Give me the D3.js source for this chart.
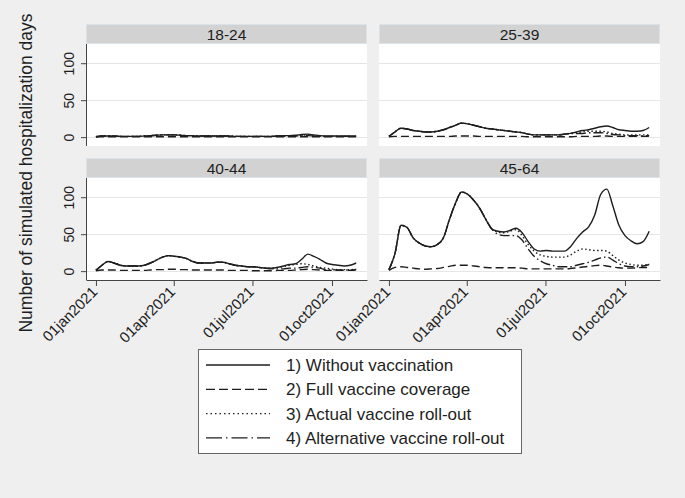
<!DOCTYPE html>
<html>
<head>
<meta charset="utf-8">
<script src="https://cdn.jsdelivr.net/npm/d3@7"></script>
<style>
  body { margin: 0; background: #efefef; }
  svg { display: block; font-family: "Liberation Sans", Arial, sans-serif; }
</style>
</head>
<body>
<script>
// weekly points, 01jan2021 .. 29oct2021
var dates = ["2021-01-01","2021-01-08","2021-01-15","2021-01-22","2021-01-29",
  "2021-02-05","2021-02-12","2021-02-19","2021-02-26","2021-03-05","2021-03-12",
  "2021-03-19","2021-03-26","2021-04-02","2021-04-09","2021-04-16","2021-04-23",
  "2021-04-30","2021-05-07","2021-05-14","2021-05-21","2021-05-28","2021-06-04",
  "2021-06-11","2021-06-18","2021-06-25","2021-07-02","2021-07-09","2021-07-16",
  "2021-07-23","2021-07-30","2021-08-06","2021-08-13","2021-08-20","2021-08-27",
  "2021-09-03","2021-09-10","2021-09-17","2021-09-24","2021-10-01","2021-10-08",
  "2021-10-15","2021-10-22","2021-10-29"];

var groups = ["18-24", "25-39", "40-44", "45-64"];
var scenarios = ["1) Without vaccination", "2) Full vaccine coverage",
                 "3) Actual vaccine roll-out", "4) Alternative vaccine roll-out"];
var yTicks = [0, 50, 100];
var xTicks = ["2021-01-01", "2021-04-01", "2021-07-01", "2021-10-01"];

// 18-24
var none_18 = [0.5,1.5,1.5,1.5,1, 1,1,1,1.5,2, 2.5,3,3,3,2.5, 2,2,1.5,1.5,1.5, 1.5,1.5,1.5,1,1, 1,1,1,1,1, 1.5,2,2,2.5,3.5, 4,3,2,1.5,1.5, 1.5,1.5,1.5,1.5];
var full_18 = [0.3,0.5,0.5,0.5,0.5, 0.5,0.5,0.5,0.5,0.5, 0.5,0.6,0.6,0.6,0.5, 0.5,0.5,0.5,0.5,0.5, 0.5,0.5,0.5,0.4,0.4, 0.4,0.4,0.4,0.4,0.4, 0.4,0.5,0.5,0.5,0.6, 0.6,0.6,0.5,0.5,0.5, 0.5,0.5,0.5,0.5];
var actual_18 = [0.5,1.5,1.5,1.5,1, 1,1,1,1.5,2, 2.5,3,3,3,2.5, 2,2,1.5,1.5,1.5, 1.5,1.5,1.5,1,1, 1,1,1,1,1, 1.5,1.5,1.5,2,2.5, 3,2,1.5,1,1, 1,1,1,1];
var alt_18 = [0.5,1.5,1.5,1.5,1, 1,1,1,1.5,2, 2.5,3,3,3,2.5, 2,2,1.5,1.5,1.5, 1.5,1.5,1.5,1,1, 1,1,1,1,1, 1.5,1.5,1.5,1.5,2, 2,1.5,1,1,1, 1,1,1,1];

// 25-39
var none_25 = [1,7,12,11,9, 8,7,7,8,10, 13,16,19,18,16, 14,12,11,10,9, 8,7,6,4,3, 3,3,3,3,4, 5,7,9,10,12, 14,15,13,10,9, 8,8,9,13];
var full_25 = [0.5,1,1,1,1, 1,1,1,1,1, 1,1.5,1.5,1.5,1.5, 1,1,1,1,1, 1,1,1,0.5,0.5, 0.5,0.5,0.5,0.5,0.5, 0.5,1,1,1,1, 1.5,1.5,1,1,1, 1,1,1,1];
var actual_25 = [1,7,12,11,9, 8,7,7,8,10, 13,16,19,18,16, 14,12,11,10,9, 8,7,6,4,3, 3,3,3,3,4, 5,6,7,8,8, 8,7,5,4,3, 3,3,3,3];
var alt_25 = [1,7,12,11,9, 8,7,7,8,10, 13,16,19,18,16, 14,12,11,10,9, 8,7,6,4,3, 3,3,3,3,4, 5,5,5,6,6, 6,5,3.5,3,2, 2,2,2,2];

// 40-44
var none_40 = [1,8,13,11,8, 7,7,7,8,11, 15,19,21,20,19, 17,13,11,11,11, 12,12,10,8,7, 6,6,5,4,4, 5,7,9,10,16, 23,20,16,11,9, 8,7,8,11];
var full_40 = [0.5,1.5,1.5,1.5,1, 1,1,1,1,1.5, 2,2,2.5,2.5,2, 2,1.5,1.5,1.5,1.5, 1.5,1.5,1,1,1, 1,0.5,0.5,0.5,0.5, 1,1,1,1.5,2, 2.5,2,1.5,1,1, 1,1,1,1.5];
var actual_40 = [1,8,13,11,8, 7,7,7,8,11, 15,19,21,20,19, 17,13,11,11,11, 12,12,10,8,7, 6,6,5,4,4, 5,6,8,9,10, 9,7,5,4,3, 2,2,2,3];
var alt_40 = [1,8,13,11,8, 7,7,7,8,11, 15,19,21,20,19, 17,13,11,11,11, 12,12,10,8,7, 6,6,5,4,3, 3,3,4,4,5, 6,5,4,2,2, 1.5,1.5,1.5,2];

// 45-64
var none_45 = [2,24,62,59,45, 38,34,33,36,45, 70,92,107,104,96, 85,70,57,54,53, 55,58,52,40,30, 27,28,27,27,27, 33,44,53,60,76, 104,111,88,62,48, 41,37,40,54];
var full_45 = [1,5,6,5,4, 3,2.5,3,3.5,5, 6.5,8,8,8,7, 6,5,4.5,4.5,4.5, 4.5,4.5,4,3,3, 3,3,3,3,3, 3.5,4.5,5.5,6.5,7.5, 8,7,5.5,4.5,4, 4,4.5,5,5];
var actual_45 = [2,24,62,59,45, 38,34,33,36,45, 70,92,107,104,96, 85,70,57,53,52, 54,56,48,36,27, 22,20,19,19,19, 22,27,30,29,28, 28,27,21,15,11, 9,8,8,10];
var alt_45 = [2,24,62,59,45, 38,34,33,36,45, 70,92,107,104,96, 85,70,57,50,48, 48,48,42,30,20, 14,10,8,6,6, 6,8,10,12,15, 18,19,15,10,7, 6,6,7,9];

var panelData = [
  [none_18, full_18, actual_18, alt_18],
  [none_25, full_25, actual_25, alt_25],
  [none_40, full_40, actual_40, alt_40],
  [none_45, full_45, actual_45, alt_45]
];

var dashes = [null, "8,4", "1.5,2.5", "10,3,1.5,3"];
var legendDashes = [null, "9,4", "1.5,3", "16,4,1.5,4"];

// #region layout
var width = 685, height = 498;
var margin = {left: 86, top: 24};
var panelW = 281, gapX = 12, stripH = 20, plotH = 102, gapY = 12;
var ink = "#1e1e1e";

var svg = d3.select("body").append("svg")
    .attr("width", width)
    .attr("height", height);

svg.append("rect").attr("width", width).attr("height", height).attr("fill", "#efefef");

var parseDate = d3.utcParse("%Y-%m-%d");
var fmt = d3.utcFormat("%d%b%Y");

var x = d3.scaleUtc()
    .domain([new Date(Date.UTC(2020, 11, 20, 12)), new Date(Date.UTC(2021, 10, 10, 12))])
    .range([0, panelW]);

var y = d3.scaleLinear()
    .domain([-12, 126])
    .range([plotH, 0]);

var line = d3.line()
    .x(function(d) { return x(d.date); })
    .y(function(d) { return y(d.value); })
    .curve(d3.curveMonotoneX);
// #endregion

groups.forEach(function(name, i) {
  var col = i % 2, row = Math.floor(i / 2);
  var px = margin.left + col * (panelW + gapX);
  var py = margin.top + row * (stripH + plotH + gapY);

  var g = svg.append("g").attr("transform", "translate(" + px + "," + py + ")");

  // strip
  g.append("rect")
    .attr("x", 0.5).attr("y", 0.5)
    .attr("width", panelW - 1).attr("height", stripH - 1)
    .attr("fill", "#d2d2d2").attr("stroke", "#dbe3e8");
  g.append("text")
    .attr("x", panelW / 2).attr("y", 16)
    .attr("text-anchor", "middle")
    .attr("font-size", "15.5px")
    .attr("fill", ink)
    .text(name);

  var p = g.append("g").attr("transform", "translate(0," + stripH + ")");
  p.append("rect").attr("width", panelW).attr("height", plotH).attr("fill", "#fff");

  // gridlines
  p.selectAll(".grid").data(yTicks).enter().append("line")
    .attr("x1", 0).attr("x2", panelW)
    .attr("y1", function(d) { return Math.round(y(d)) + 0.5; })
    .attr("y2", function(d) { return Math.round(y(d)) + 0.5; })
    .attr("stroke", "#e6e6e6").attr("stroke-width", 1.2);

  // series
  panelData[i].forEach(function(vals, s) {
    var pts = vals.map(function(v, k) { return {date: parseDate(dates[k]), value: v}; });
    p.append("path")
      .datum(pts)
      .attr("d", line)
      .attr("fill", "none")
      .attr("stroke", ink)
      .attr("stroke-width", 1.4)
      .attr("stroke-dasharray", dashes[s]);
  });

  // y axis on left column
  if (col == 0) {
    var ya = p.append("g")
      .call(d3.axisLeft(y).tickValues(yTicks).tickSize(5).tickSizeOuter(0).tickFormat(d3.format("d")));
    ya.select(".domain").attr("stroke", "#444").attr("d", "M0.5,0V" + plotH);
    ya.selectAll(".tick line").attr("stroke", "#444");
    ya.selectAll(".tick text")
      .attr("font-size", "14px").attr("fill", ink)
      .attr("font-family", "Liberation Sans, Arial, sans-serif")
      .attr("transform", "rotate(-90)")
      .attr("x", 0).attr("y", -12).attr("dy", 0)
      .attr("text-anchor", "middle");
  }

  // x axis on bottom row
  if (row == 1) {
    var xa = p.append("g")
      .attr("transform", "translate(0," + plotH + ")")
      .call(d3.axisBottom(x).tickValues(xTicks.map(parseDate)).tickSize(6).tickSizeOuter(0)
        .tickFormat(function(d) { return fmt(d).toLowerCase(); }));
    xa.select(".domain").attr("stroke", "#444");
    xa.selectAll(".tick line").attr("stroke", "#444");
    xa.selectAll(".tick text")
      .attr("font-size", "15px").attr("fill", ink)
      .attr("font-family", "Liberation Sans, Arial, sans-serif")
      .attr("text-anchor", "end")
      .attr("transform", "translate(-6,5) rotate(-45)")
      .attr("x", 0).attr("y", 0).attr("dy", "0.75em");
  }
});

// y title
svg.append("text")
  .attr("transform", "translate(32,173) rotate(-90)")
  .attr("text-anchor", "middle")
  .attr("font-size", "17.5px")
  .attr("fill", ink)
  .text("Number of simulated hospitalization days");

// legend
var lg = svg.append("g").attr("transform", "translate(198,349)");
lg.append("rect")
  .attr("x", 0.5).attr("y", 0.5)
  .attr("width", 323).attr("height", 104)
  .attr("fill", "#fff").attr("stroke", "#666");

var rows = lg.selectAll(".row").data(scenarios).enter().append("g")
  .attr("transform", function(d, k) { return "translate(0," + (16 + k * 24.3) + ")"; });
rows.append("line")
  .attr("x1", 8).attr("x2", 72)
  .attr("stroke", ink).attr("stroke-width", 1.3)
  .attr("stroke-dasharray", function(d, k) { return legendDashes[k]; });
rows.append("text")
  .attr("x", 88).attr("dy", "0.35em")
  .attr("font-size", "17px")
  .attr("fill", ink)
  .text(function(d) { return d; });
</script>
</body>
</html>
